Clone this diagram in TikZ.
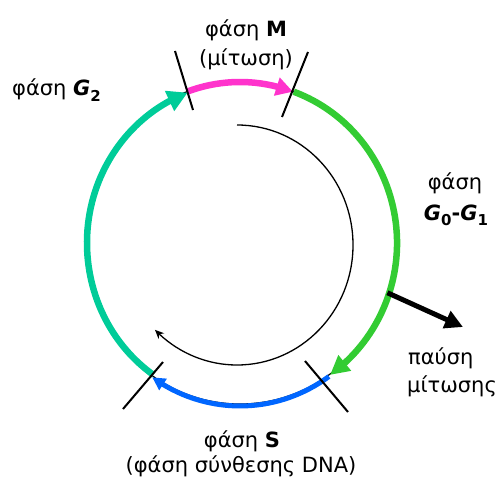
\documentclass[tikz,border=0pt]{standalone}
\usepackage{fontspec}
\setmainfont{DejaVu Sans}
\usetikzlibrary{arrows.meta,bending,calc}
\definecolor{pinkc}{HTML}{FF33CC}
\definecolor{greenc}{HTML}{33CC33}
\definecolor{bluec}{HTML}{0066FF}
\definecolor{tealc}{HTML}{00CC99}
\newcommand{\subnum}[1]{\raisebox{-0.25em}{\fontsize{15}{15}\selectfont\textbf{#1}}}
\tikzset{
  lbl/.style={font=\fontsize{21}{24}\selectfont, inner sep=0pt},
  phasearc/.style={line width=6.5pt},
  tickline/.style={line width=2pt, black},
}
\begin{document}
\begin{tikzpicture}[x=1pt,y=1pt]
\useasboundingbox (0,0) rectangle (497,480);
\coordinate (O) at (240,237);
\coordinate (I) at (237,235);
% thin outer ellipse
\draw[line width=1.2pt] (O) ellipse [x radius=155, y radius=161];
% inner arc
\coordinate (istart) at ($(I)+(90:116 and 120)$);
\draw[line width=1.3pt, -{Stealth[length=9pt,width=8pt]}] (istart) arc[start angle=90, end angle=-135, x radius=116, y radius=120];
% phase points
\coordinate (mL) at ($(O)+(110:155 and 161)$);
\coordinate (mR) at ($(O)+(70:155 and 161)$);
\coordinate (sR) at ($(O)+(-55:155 and 161)$);
\coordinate (sL) at ($(O)+(-124.5:155 and 161)$);
\coordinate (gstart) at ($(O)+(70:157 and 161)$);
\coordinate (bstart) at ($(O)+(-55:155 and 163)$);
\coordinate (tstart) at ($(O)+(-124.5:153 and 160)$);
% coloured arcs
\draw[phasearc, tealc, -{Triangle[length=20pt,width=21pt]}] (tstart) arc[start angle=-124.5, end angle=-250, x radius=153, y radius=160];
\draw[phasearc, greenc, -{Triangle[length=19pt,width=19pt]}] (gstart) arc[start angle=70, end angle=-55, x radius=157, y radius=161];
\draw[line width=5pt, bluec, -{Triangle[length=13pt,width=13pt]}] (bstart) arc[start angle=-55, end angle=-124.5, x radius=155, y radius=163];
\draw[phasearc, pinkc, -{Triangle[length=17pt,width=18pt]}] (mL) arc[start angle=110, end angle=70, x radius=155, y radius=161];
% ticks
\coordinate (mLa) at (175,429); \coordinate (mLb) at (193,370);
\coordinate (mRa) at (308,428); \coordinate (mRb) at (282,363);
\coordinate (sLa) at (163,118); \coordinate (sLb) at (123,71);
\coordinate (sRa) at (305,119); \coordinate (sRb) at (348,68);
\draw[tickline] (mLa) -- (mLb);
\draw[tickline] (mRa) -- (mRb);
\draw[tickline] (sLa) -- (sLb);
\draw[tickline] (sRa) -- (sRb);
% pause arrow
\coordinate (pstart) at ($(O)+(-18:155 and 161)$);
\coordinate (pend) at (463,153);
\draw[line width=5pt, -{Triangle[length=18pt,width=18pt]}] (pstart) -- (pend);
% labels
\node[lbl, anchor=base] (tM1) at (246,443) {φάση \textbf{M}};
\node[lbl, anchor=base] (tM2) at (246,414) {(μίτωση)};
\node[lbl, anchor=base west] (tG2) at (12,384) {φάση \textbf{\textit{G}}\subnum{2}};
\node[lbl, anchor=base] (tG1a) at (455,291) {φάση};
\node[lbl, anchor=base] (tG1b) at (456,260) {\textbf{\textit{G}}\subnum{0}\textbf{-}\textbf{\textit{G}}\subnum{1}};
\node[lbl, anchor=base west] (tP1) at (408,116) {παύση};
\node[lbl, anchor=base west] (tP2) at (407,88) {μίτωσης};
\node[lbl, anchor=base] (tS1) at (242,33) {φάση \textbf{S}};
\node[lbl, anchor=base] (tS2) at (241,8) {(φάση σύνθεσης DNA)};
\end{tikzpicture}
\end{document}
